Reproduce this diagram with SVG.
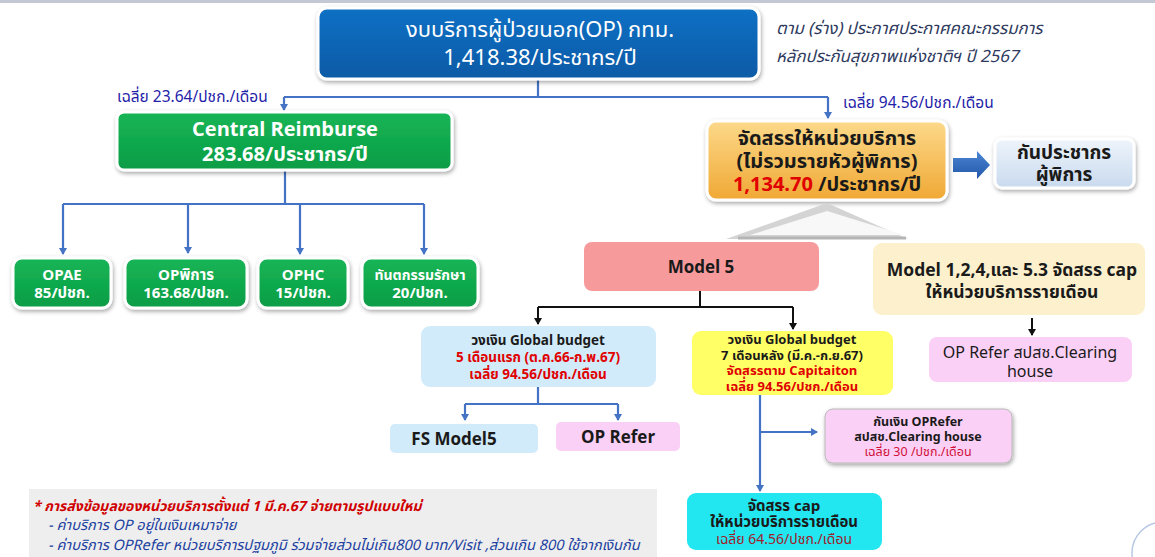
<svg xmlns="http://www.w3.org/2000/svg" width="1155" height="557" viewBox="0 0 1155 557">
<defs>
<style>
text{font-family:Tahoma,"Noto Sans Thai","Loma","Garuda","Noto Sans","DejaVu Sans",sans-serif;}
.c{text-anchor:middle}
.b{font-weight:bold}
.w{fill:#ffffff}
.d{fill:#1a1a1a}
.r{fill:#e00000}
.lbl{fill:#1f22a8;font-size:15.5px}
.blue{stroke:#4472c4;stroke-width:2.2;fill:none}
.blk{stroke:#111;stroke-width:2;fill:none}
</style>
<marker id="ab" markerWidth="8" markerHeight="8" refX="6" refY="4" orient="auto" markerUnits="userSpaceOnUse"><path d="M0,0 L7,4 L0,8 z" fill="#4472c4"/></marker>
<marker id="ak" markerWidth="8" markerHeight="8" refX="6" refY="4" orient="auto" markerUnits="userSpaceOnUse"><path d="M0,0 L7,4 L0,8 z" fill="#111"/></marker>
<linearGradient id="gBlue" x1="0" y1="0" x2="0" y2="1"><stop offset="0" stop-color="#1170c4"/><stop offset="1" stop-color="#0a5aa6"/></linearGradient>
<linearGradient id="gGreen" x1="0" y1="0" x2="0" y2="1"><stop offset="0" stop-color="#17b556"/><stop offset="1" stop-color="#0a9d45"/></linearGradient>
<linearGradient id="gOr" x1="0" y1="0" x2="0" y2="1"><stop offset="0" stop-color="#fcd98a"/><stop offset="1" stop-color="#f0a834"/></linearGradient>
<linearGradient id="gLb" x1="0" y1="0" x2="0" y2="1"><stop offset="0" stop-color="#eef4fb"/><stop offset="1" stop-color="#c9daee"/></linearGradient>
<linearGradient id="gArr" x1="0" y1="0" x2="0" y2="1"><stop offset="0" stop-color="#4a86d4"/><stop offset="1" stop-color="#2457a8"/></linearGradient>
<filter id="sh" x="-10%" y="-10%" width="120%" height="130%"><feDropShadow dx="1" dy="2" stdDeviation="2" flood-color="#000" flood-opacity="0.35"/></filter>
</defs>
<rect x="0" y="0" width="1155" height="557" fill="#ffffff"/>
<rect x="0" y="0" width="1155" height="3" fill="#c4c8d4"/>

<g id="connectors">
<path class="blue" d="M538,80 V97 M284,97 H828"/>
<path class="blue" d="M284,97 V110" marker-end="url(#ab)"/>
<path class="blue" d="M828,97 V118" marker-end="url(#ab)"/>
<path class="blue" d="M285,170 V204 M63,204 H424"/>
<path class="blue" d="M63,204 V254" marker-end="url(#ab)"/>
<path class="blue" d="M188,204 V253" marker-end="url(#ab)"/>
<path class="blue" d="M300,204 V254" marker-end="url(#ab)"/>
<path class="blue" d="M424,204 V254" marker-end="url(#ab)"/>
<path class="blk" d="M700,291 V307 M538,307 H793"/>
<path class="blk" d="M538,307 V324" marker-end="url(#ak)"/>
<path class="blk" d="M793,307 V329" marker-end="url(#ak)"/>
<path class="blk" d="M1032,318 V335" marker-end="url(#ak)"/>
<path class="blue" d="M538,387 V404 M465,404 H618"/>
<path class="blue" d="M465,404 V420" marker-end="url(#ab)"/>
<path class="blue" d="M618,404 V420" marker-end="url(#ab)"/>
<path class="blue" d="M760,395 V491" marker-end="url(#ab)"/>
<path class="blue" d="M760,432 H817" marker-end="url(#ab)"/>
<polygon points="953,158 977,158 977,151 990,165 977,179 977,172 953,172" fill="url(#gArr)"/>
</g>

<g id="op-total">
<rect x="318" y="8" width="441" height="71" rx="9" fill="url(#gBlue)" stroke="#ffffff" stroke-width="3" filter="url(#sh)"/>
<text class="c w" font-size="22"><tspan x="540" y="37">งบบริการผู้ป่วยนอก(OP) กทม.</tspan><tspan x="540" y="65">1,418.38/ประชากร/ปี</tspan></text>
</g>

<g id="note-top">
<text font-size="16.8" font-style="italic" fill="#2e3a5e"><tspan x="776" y="34">ตาม (ร่าง) ประกาศประกาศคณะกรรมการ</tspan><tspan x="776" y="62">หลักประกันสุขภาพแห่งชาติฯ ปี 2567</tspan></text>
</g>

<g id="label-left"><text class="lbl" x="117" y="102">เฉลี่ย 23.64/ปชก./เดือน</text></g>
<g id="label-right"><text class="lbl" x="843" y="108">เฉลี่ย 94.56/ปชก./เดือน</text></g>

<g id="central">
<rect x="117" y="112" width="335" height="58" rx="7" fill="url(#gGreen)" stroke="#ffffff" stroke-width="3" filter="url(#sh)"/>
<text class="c w b" font-size="20"><tspan x="285" y="136">Central Reimburse</tspan><tspan x="285" y="161">283.68/ประชากร/ปี</tspan></text>
</g>

<g id="opae">
<rect x="13" y="258" width="98" height="50" rx="9" fill="url(#gGreen)" stroke="#ffffff" stroke-width="3" filter="url(#sh)"/>
<text class="c w b" font-size="15"><tspan x="62" y="280">OPAE</tspan><tspan x="62" y="298">85/ปชก.</tspan></text>
</g>
<g id="opdis">
<rect x="125" y="258" width="122" height="50" rx="9" fill="url(#gGreen)" stroke="#ffffff" stroke-width="3" filter="url(#sh)"/>
<text class="c w b" font-size="15"><tspan x="186" y="280">OPพิการ</tspan><tspan x="186" y="298">163.68/ปชก.</tspan></text>
</g>
<g id="ophc">
<rect x="258" y="258" width="90" height="50" rx="9" fill="url(#gGreen)" stroke="#ffffff" stroke-width="3" filter="url(#sh)"/>
<text class="c w b" font-size="15"><tspan x="303" y="280">OPHC</tspan><tspan x="303" y="298">15/ปชก.</tspan></text>
</g>
<g id="dental">
<rect x="362" y="258" width="116" height="50" rx="9" fill="url(#gGreen)" stroke="#ffffff" stroke-width="3" filter="url(#sh)"/>
<text class="c w b" font-size="15"><tspan x="420" y="280" font-size="14">ทันตกรรมรักษา</tspan><tspan x="420" y="298">20/ปชก.</tspan></text>
</g>

<g id="alloc">
<rect x="707" y="121" width="240" height="79" rx="9" fill="url(#gOr)" stroke="#ffffff" stroke-width="3" filter="url(#sh)"/>
<text class="c d b" font-size="20"><tspan x="827" y="145">จัดสรรให้หน่วยบริการ</tspan><tspan x="827" y="168">(ไม่รวมรายหัวผู้พิการ)</tspan><tspan x="827" y="191"><tspan fill="#e00000">1,134.70</tspan> /ประชากร/ปี</tspan></text>
</g>

<g id="disabled-pop">
<rect x="995" y="139" width="139" height="49" rx="7" fill="url(#gLb)" stroke="#ffffff" stroke-width="3" filter="url(#sh)"/>
<text class="c d b" font-size="19"><tspan x="1064" y="159">กันประชากร</tspan><tspan x="1064" y="181">ผู้พิการ</tspan></text>
</g>

<g id="pyramid">
<polygon points="827,203 726,239 908,239" fill="#d4d4d4"/>
<polygon points="827,211 750,235 904,235" fill="#f8f8f8"/>
<line x1="738" y1="238" x2="906" y2="238" stroke="#b5b5b5" stroke-width="3"/>
</g>

<g id="model5">
<rect x="584" y="242" width="235" height="49" rx="8" fill="#f79a9c"/>
<text class="c d b" x="701" y="273" font-size="17">Model 5</text>
</g>

<g id="model124">
<rect x="873" y="243" width="272" height="72" rx="9" fill="#fdf0cc"/>
<text class="c d b" font-size="17.5"><tspan x="1012" y="276">Model 1,2,4,และ 5.3 จัดสรร cap</tspan><tspan x="1012" y="298">ให้หน่วยบริการรายเดือน</tspan></text>
</g>

<g id="opref-clearing">
<rect x="929" y="337" width="203" height="45" rx="8" fill="#fbd0f6"/>
<text class="c d" font-size="16"><tspan x="1030" y="358">OP Refer สปสช.Clearing</tspan><tspan x="1030" y="377">house</tspan></text>
</g>

<g id="gb-first">
<rect x="421" y="326" width="235" height="61" rx="9" fill="#d2ebfb"/>
<text class="c b" font-size="13.5"><tspan class="d" x="538" y="345">วงเงิน Global budget</tspan><tspan class="r" x="538" y="362">5 เดือนแรก (ต.ค.66-ก.พ.67)</tspan><tspan class="r" x="538" y="379">เฉลี่ย 94.56/ปชก./เดือน</tspan></text>
</g>

<g id="gb-last">
<rect x="692" y="331" width="201" height="64" rx="9" fill="#ffff66"/>
<text class="c b" font-size="13"><tspan class="d" x="792" y="344">วงเงิน Global budget</tspan><tspan class="d" x="792" y="359.5">7 เดือนหลัง (มี.ค.-ก.ย.67)</tspan><tspan class="r" x="792" y="375">จัดสรรตาม Capitaiton</tspan><tspan class="r" x="792" y="390.5">เฉลี่ย 94.56/ปชก./เดือน</tspan></text>
</g>

<g id="fs-model5">
<rect x="390" y="424" width="148" height="29" rx="5" fill="#d2ebfb"/>
<text class="c d b" x="454" y="445" font-size="17">FS Model5</text>
</g>

<g id="op-refer">
<rect x="556" y="422" width="124" height="29" rx="5" fill="#fbd0f6"/>
<text class="c d b" x="618" y="443" font-size="17">OP Refer</text>
</g>

<g id="reserve-opref">
<rect x="825" y="409" width="187" height="54" rx="8" fill="#fbd0f6" stroke="#b9b9b9" stroke-width="1" filter="url(#sh)"/>
<text class="c" font-size="12.5"><tspan class="d b" x="918" y="426">กันเงิน OPRefer</tspan><tspan class="d b" x="918" y="441">สปสช.Clearing house</tspan><tspan x="918" y="456" fill="#d0103a">เฉลี่ย 30 /ปชก./เดือน</tspan></text>
</g>

<g id="cap-monthly">
<rect x="687" y="493" width="195" height="57" rx="9" fill="#22e6f0"/>
<text class="c" font-size="15"><tspan class="d b" x="784" y="511">จัดสรร cap</tspan><tspan class="d b" x="784" y="527">ให้หน่วยบริการรายเดือน</tspan><tspan x="784" y="544" font-size="14" fill="#a0202a">เฉลี่ย 64.56/ปชก./เดือน</tspan></text>
</g>

<g id="footer">
<rect x="29" y="489" width="628" height="68" fill="#eeeeee"/>
<text font-style="italic" font-size="14.5"><tspan x="33" y="511" font-size="14" font-weight="bold" fill="#d00000">* การส่งข้อมูลของหน่วยบริการตั้งแต่ 1 มี.ค.67 จ่ายตามรูปแบบใหม่</tspan><tspan x="48" y="530" fill="#2040a0">- ค่าบริการ OP อยู่ในเงินเหมาจ่าย</tspan><tspan x="48" y="550" fill="#2040a0">- ค่าบริการ OPRefer หน่วยบริการปฐมภูมิ ร่วมจ่ายส่วนไม่เกิน800 บาท/Visit ,ส่วนเกิน 800 ใช้จากเงินกัน</tspan></text>
</g>

<circle cx="1163" cy="553" r="31" fill="none" stroke="#b8c8e4" stroke-width="1.5"/>
</svg>
